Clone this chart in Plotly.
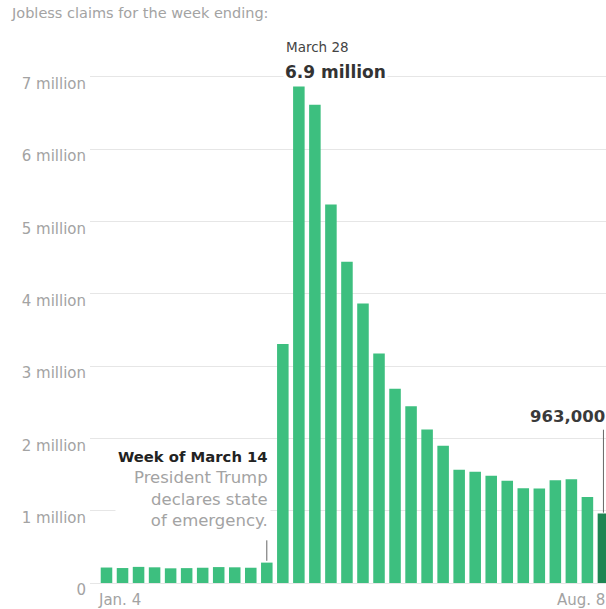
import plotly.graph_objects as go

weeks = ["Jan. 4", "Jan. 11", "Jan. 18", "Jan. 25", "Feb. 1", "Feb. 8", "Feb. 15", "Feb. 22",
         "Feb. 29", "March 7", "March 14", "March 21", "March 28", "April 4", "April 11",
         "April 18", "April 25", "May 2", "May 9", "May 16", "May 23", "May 30", "June 6",
         "June 13", "June 20", "June 27", "July 4", "July 11", "July 18", "July 25", "Aug. 1", "Aug. 8"]
claims = [214000, 207000, 223000, 217000, 203000, 206000, 211000, 220000,
          217000, 211000, 282000, 3307000, 6867000, 6615000, 5237000,
          4442000, 3867000, 3176000, 2687000, 2446000, 2123000, 1897000, 1566000,
          1540000, 1482000, 1413000, 1310000, 1307000, 1422000, 1435000, 1191000, 963000]
tick_vals = [0, 1000000, 2000000, 3000000, 4000000, 5000000, 6000000, 7000000]
tick_text = ["0", "1 million", "2 million", "3 million", "4 million", "5 million", "6 million", "7 million"]

GREEN = "#3dbf7f"
DARK = "#1e8553"
GRAY = "#a3a3a3"
colors = [GREEN] * (len(claims) - 1) + [DARK]

FONT = "DejaVu Sans"

fig = go.Figure()
fig.add_trace(go.Bar(x=weeks, y=claims, marker=dict(color=colors, line=dict(width=0)),
                     hoverinfo="skip"))

# connector lines
fig.add_shape(type="line", xref="x", yref="y", x0=weeks[-1], x1=weeks[-1],
              y0=claims[-1] + 10000, y1=2120000, line=dict(color="#666", width=1))
fig.add_shape(type="line", xref="x", yref="y", x0=weeks[10], x1=weeks[10],
              y0=claims[10] + 25000, y1=590000, line=dict(color="#666", width=1))

annotations = [
    dict(x=weeks[12], y=7000000, xref="x", yref="y", xanchor="left", yanchor="middle",
         text="March 28", showarrow=False, xshift=-15, yshift=30,
         font=dict(family=FONT, size=13.5, color="#444")),
    dict(x=weeks[12], y=7000000, xref="x", yref="y", xanchor="left", yanchor="middle",
         text="<b>6.9 million</b>", showarrow=False, xshift=-16, yshift=5,
         bgcolor="white", borderpad=1,
         font=dict(family=FONT, size=17, color="#333")),
    dict(x=weeks[-1], y=2140000, xref="x", yref="y", xanchor="right", yanchor="bottom",
         text="<b>963,000</b>", showarrow=False, xshift=4, yshift=0,
         font=dict(family=FONT, size=16.5, color="#3a3a3a")),
    dict(x=weeks[10], y=690000, xref="x", yref="y", xanchor="right", yanchor="bottom",
         text="<b><span style='color:#222;font-size:14.8px'>Week of March 14</span></b><br>President Trump<br>declares state<br>of emergency.",
         showarrow=False, align="right", xshift=4, yshift=0, bgcolor="white", borderpad=2,
         font=dict(family=FONT, size=16.5, color=GRAY)),
    dict(x=weeks[0], y=0, xref="x", yref="paper", xanchor="left", yanchor="middle",
         text=weeks[0], showarrow=False, xshift=-10.5, yshift=-8,
         font=dict(family=FONT, size=15, color=GRAY)),
    dict(x=1, y=0, xref="paper", yref="paper", xanchor="right", yanchor="middle",
         text=weeks[-1], showarrow=False, xshift=1, yshift=-8,
         font=dict(family=FONT, size=15, color=GRAY)),
]

fig.update_layout(
    width=606, height=609,
    margin=dict(l=90, r=0, t=60, b=17),
    plot_bgcolor="white", paper_bgcolor="white",
    showlegend=False, bargap=0.28,
    annotations=annotations,
    font=dict(family=FONT),
    title=dict(text="Jobless claims for the week ending:", xref="container", yref="container",
               x=12 / 606, y=1 - 13 / 609, xanchor="left", yanchor="middle",
               font=dict(family=FONT, size=14.5, color=GRAY)),
)
fig.update_xaxes(range=[-1.029, 31.16], showticklabels=False, showgrid=False,
                 zeroline=False, showline=False, ticks="")
fig.update_yaxes(range=[-124500, 7234000], tickvals=tick_vals, ticktext=tick_text,
                 showgrid=True, gridcolor="#e6e6e6", gridwidth=1, zeroline=False,
                 showline=False, ticks="", ticklabelstandoff=3, ticklabelshift=7,
                 tickfont=dict(family=FONT, size=15, color=GRAY))

fig.write_html("out.html", config={"displayModeBar": False},
               post_script="document.body.style.margin='0px';")
